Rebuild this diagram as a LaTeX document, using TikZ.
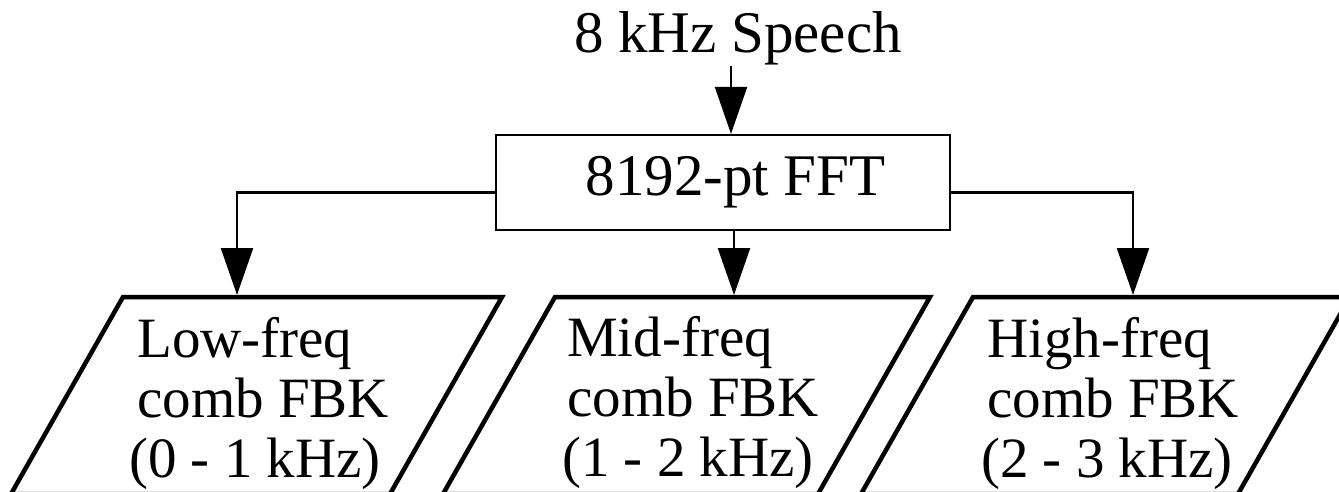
\documentclass[tikz,border=0pt]{standalone}
\usepackage{fontspec}
\setmainfont{Liberation Serif}
\usetikzlibrary{arrows.meta}
\begin{document}
\begin{tikzpicture}[x=1pt,y=-1pt,
  lbl/.style={inner sep=0pt, font=\fontsize{59}{62}\selectfont},
  bandtxt/.style={inner sep=0pt, align=left, font=\fontsize{57}{60}\selectfont},
  fftbox/.style={draw, line width=2.2pt, minimum width=454pt, minimum height=95pt,
    inner sep=0pt, font=\fontsize{59}{62}\selectfont},
  band/.style={line width=4.5pt, line join=miter},
  flow/.style={line width=2.2pt, -{Triangle[length=47pt,width=32pt]}},
]
\useasboundingbox (0,0) rectangle (1339,492);
\clip (0,0) rectangle (1339,492);

% input and transform
\node[lbl, anchor=base] (speech) at (738,53) {8 kHz Speech};
\node[fftbox] (fft) at (723,182.5) {\hspace*{25pt}8192-pt FFT};

% filterbank parallelograms (cut by the picture edge)
\draw[band] (123,297) -- (502,297) -- (390,494) -- (11,494) -- cycle;
\draw[band] (555,297) -- (930,297) -- (818,494) -- (443,494) -- cycle;
\draw[band] (973,297) -- (1350,297) -- (1238,494) -- (861,494) -- cycle;

% band labels, placed by the baseline of their last line
\node[bandtxt, anchor=base west] (lowtxt)  at (137,477)
  {Low-freq\\comb FBK\\\hspace*{-8pt}(0 - 1 kHz)};
\node[bandtxt, anchor=base west] (midtxt)  at (567,476)
  {Mid-freq\\comb FBK\\\hspace*{-5pt}(1 - 2 kHz)};
\node[bandtxt, anchor=base west] (hightxt) at (987,477)
  {High-freq\\comb FBK\\\hspace*{-6pt}(2 - 3 kHz)};

% arrow targets on the top edges
\coordinate (lowin)  at (237,295);
\coordinate (midin)  at (734,295);
\coordinate (highin) at (1133,295);
\coordinate (spout)  at ([xshift=-7pt]speech.south);

% connectors
\draw[flow] (spout) -- (spout |- fft.north);
\draw[flow] (fft.south -| midin) -- (midin);
\draw[flow] ([yshift=-10pt]fft.west) -| (lowin);
\draw[flow] ([yshift=-10pt]fft.east) -| (highin);
\end{tikzpicture}
\end{document}
